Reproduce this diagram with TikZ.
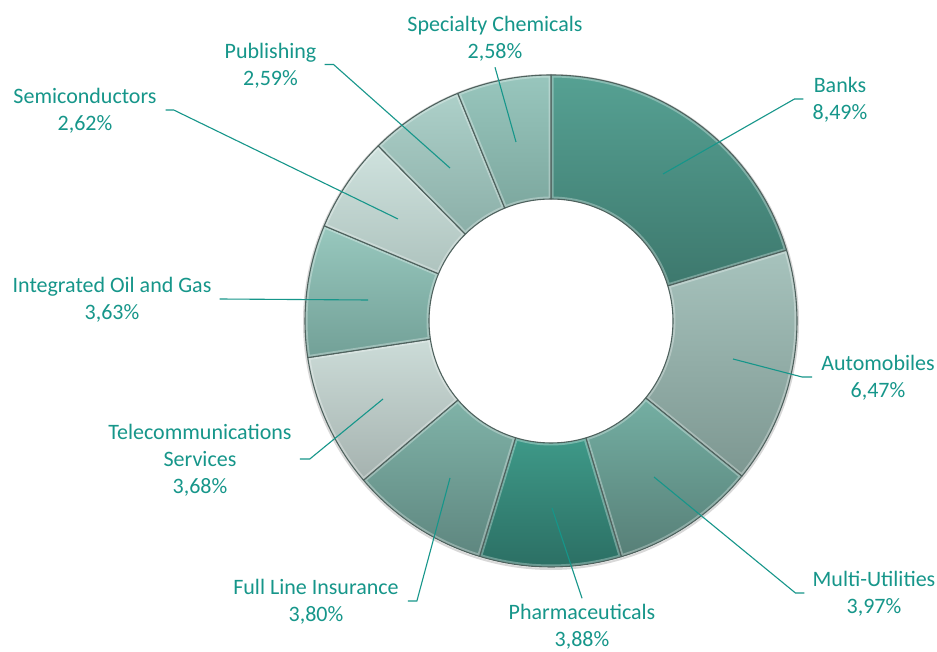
\documentclass[tikz,border=0pt]{standalone}
\usepackage{fontspec}
\setmainfont{Carlito}
\usetikzlibrary{calc}
\definecolor{lbl}{HTML}{16968A}
\definecolor{edge}{HTML}{4F625E}
\definecolor{bankT}{HTML}{56A193}\definecolor{bankB}{HTML}{3D786D}
\definecolor{autoT}{HTML}{A7C3BD}\definecolor{autoB}{HTML}{7D9791}
\definecolor{multT}{HTML}{74AFA3}\definecolor{multB}{HTML}{577F77}
\definecolor{pharT}{HTML}{3E9988}\definecolor{pharB}{HTML}{2B6E63}
\definecolor{fliT}{HTML}{80B3A8}\definecolor{fliB}{HTML}{5E867F}
\definecolor{telT}{HTML}{CCDCD8}\definecolor{telB}{HTML}{A5B2AF}
\definecolor{iogT}{HTML}{98C8BE}\definecolor{iogB}{HTML}{72A097}
\definecolor{semT}{HTML}{CFE2DE}\definecolor{semB}{HTML}{AEC3BE}
\definecolor{pubT}{HTML}{ADD0C9}\definecolor{pubB}{HTML}{8BAFA8}
\definecolor{speT}{HTML}{98C6BD}\definecolor{speB}{HTML}{7DA89F}
\newcommand{\slicepath}[2]{(#1:246) arc[start angle=#1, end angle=#2, radius=246] -- (#2:122) arc[start angle=#2, end angle=#1, radius=122] -- cycle}
\newcommand{\donutslice}[4]{%
  \path[top color=#3, bottom color=#4] \slicepath{#1}{#2};
  \begin{scope}
    \clip \slicepath{#1}{#2};
    \draw[white, opacity=0.3, line width=5pt] \slicepath{#1}{#2};
  \end{scope}
  \draw[edge, line width=1.1pt, line join=round] \slicepath{#1}{#2};}
\begin{document}
\begin{tikzpicture}[x=1pt,y=1pt,
  lab/.style={text=lbl, align=center, inner sep=0pt, font=\fontsize{22}{27}\selectfont},
  lead/.style={draw=lbl, line width=1.1pt}]
\useasboundingbox (0,0) rectangle (937,651);
\fill[white] (0,0) rectangle (937,651);
\begin{scope}[shift={(551,330)}]
  \draw[black!25, line width=2pt, opacity=0.6] (0,-1) circle[radius=247];
  \donutslice{90}{16.72}{bankT}{bankB}
  \donutslice{16.72}{-39.12}{autoT}{autoB}
  \donutslice{-39.12}{-73.39}{multT}{multB}
  \donutslice{-73.39}{-106.88}{pharT}{pharB}
  \donutslice{-106.88}{-139.68}{fliT}{fliB}
  \donutslice{-139.68}{-171.44}{telT}{telB}
  \donutslice{-171.44}{-202.77}{iogT}{iogB}
  \donutslice{-202.77}{-225.38}{semT}{semB}
  \donutslice{-225.38}{-247.73}{pubT}{pubB}
  \donutslice{-247.73}{-270}{speT}{speB}
\end{scope}
% labels
\node[lab] (spec)   at (495,612.5) {Specialty Chemicals\\2,58\%};
\node[lab] (pub)    at (270.5,585.5) {Publishing\\2,59\%};
\node[lab] (semi)   at (85,540)    {Semiconductors\\2,62\%};
\node[lab] (iog)    at (112,351)   {Integrated Oil and Gas\\3,63\%};
\node[lab] (tel)    at (200,191)   {Telecommunications\\Services\\3,68\%};
\node[lab] (fli)    at (316,49)    {Full Line Insurance\\3,80\%};
\node[lab] (pharma) at (582,24)    {Pharmaceuticals\\3,88\%};
\node[lab] (multi)  at (874,57)    {Multi-Utilities\\3,97\%};
\node[lab] (auto)   at (878,273)   {Automobiles\\6,47\%};
\node[lab] (banks)  at (840,551)   {Banks\\8,49\%};
% leader end points inside slices
\coordinate (pbanks)  at (663,477);
\coordinate (pauto)   at (733,292);
\coordinate (pmulti)  at (654,174);
\coordinate (ppharma) at (552,143);
\coordinate (pfli)    at (450,173);
\coordinate (ptel)    at (383,252);
\coordinate (piog)    at (368,351);
\coordinate (psemi)   at (398,432);
\coordinate (ppub)    at (450,483);
\coordinate (pspec)   at (516,509);
% leaders
\draw[lead] ([xshift=-9pt,yshift=1pt]banks.west) -- ++(-9,0) -- (pbanks);
\draw[lead] ([xshift=-9pt,yshift=1pt]auto.west) -- ++(-10,0) -- (pauto);
\draw[lead] ([xshift=-8pt,yshift=1pt]multi.west) -- ++(-9,0) -- (pmulti);
\draw[lead] ([xshift=9pt,yshift=1pt]fli.east) -- ++(9,0) -- (pfli);
\draw[lead] ([xshift=8pt,yshift=1pt]tel.east) -- ++(10,0) -- (ptel);
\draw[lead] ([xshift=8pt,yshift=1pt]iog.east) -- (piog);
\draw[lead] ([xshift=9pt,yshift=1pt]semi.east) -- ++(8,0) -- (psemi);
\draw[lead] ([xshift=8pt,yshift=1pt]pub.east) -- ++(9,0) -- (ppub);
\draw[lead] ([yshift=-6pt]spec.south) -- (pspec);
\draw[lead] ([yshift=6pt]pharma.north) -- (ppharma);
\end{tikzpicture}
\end{document}
